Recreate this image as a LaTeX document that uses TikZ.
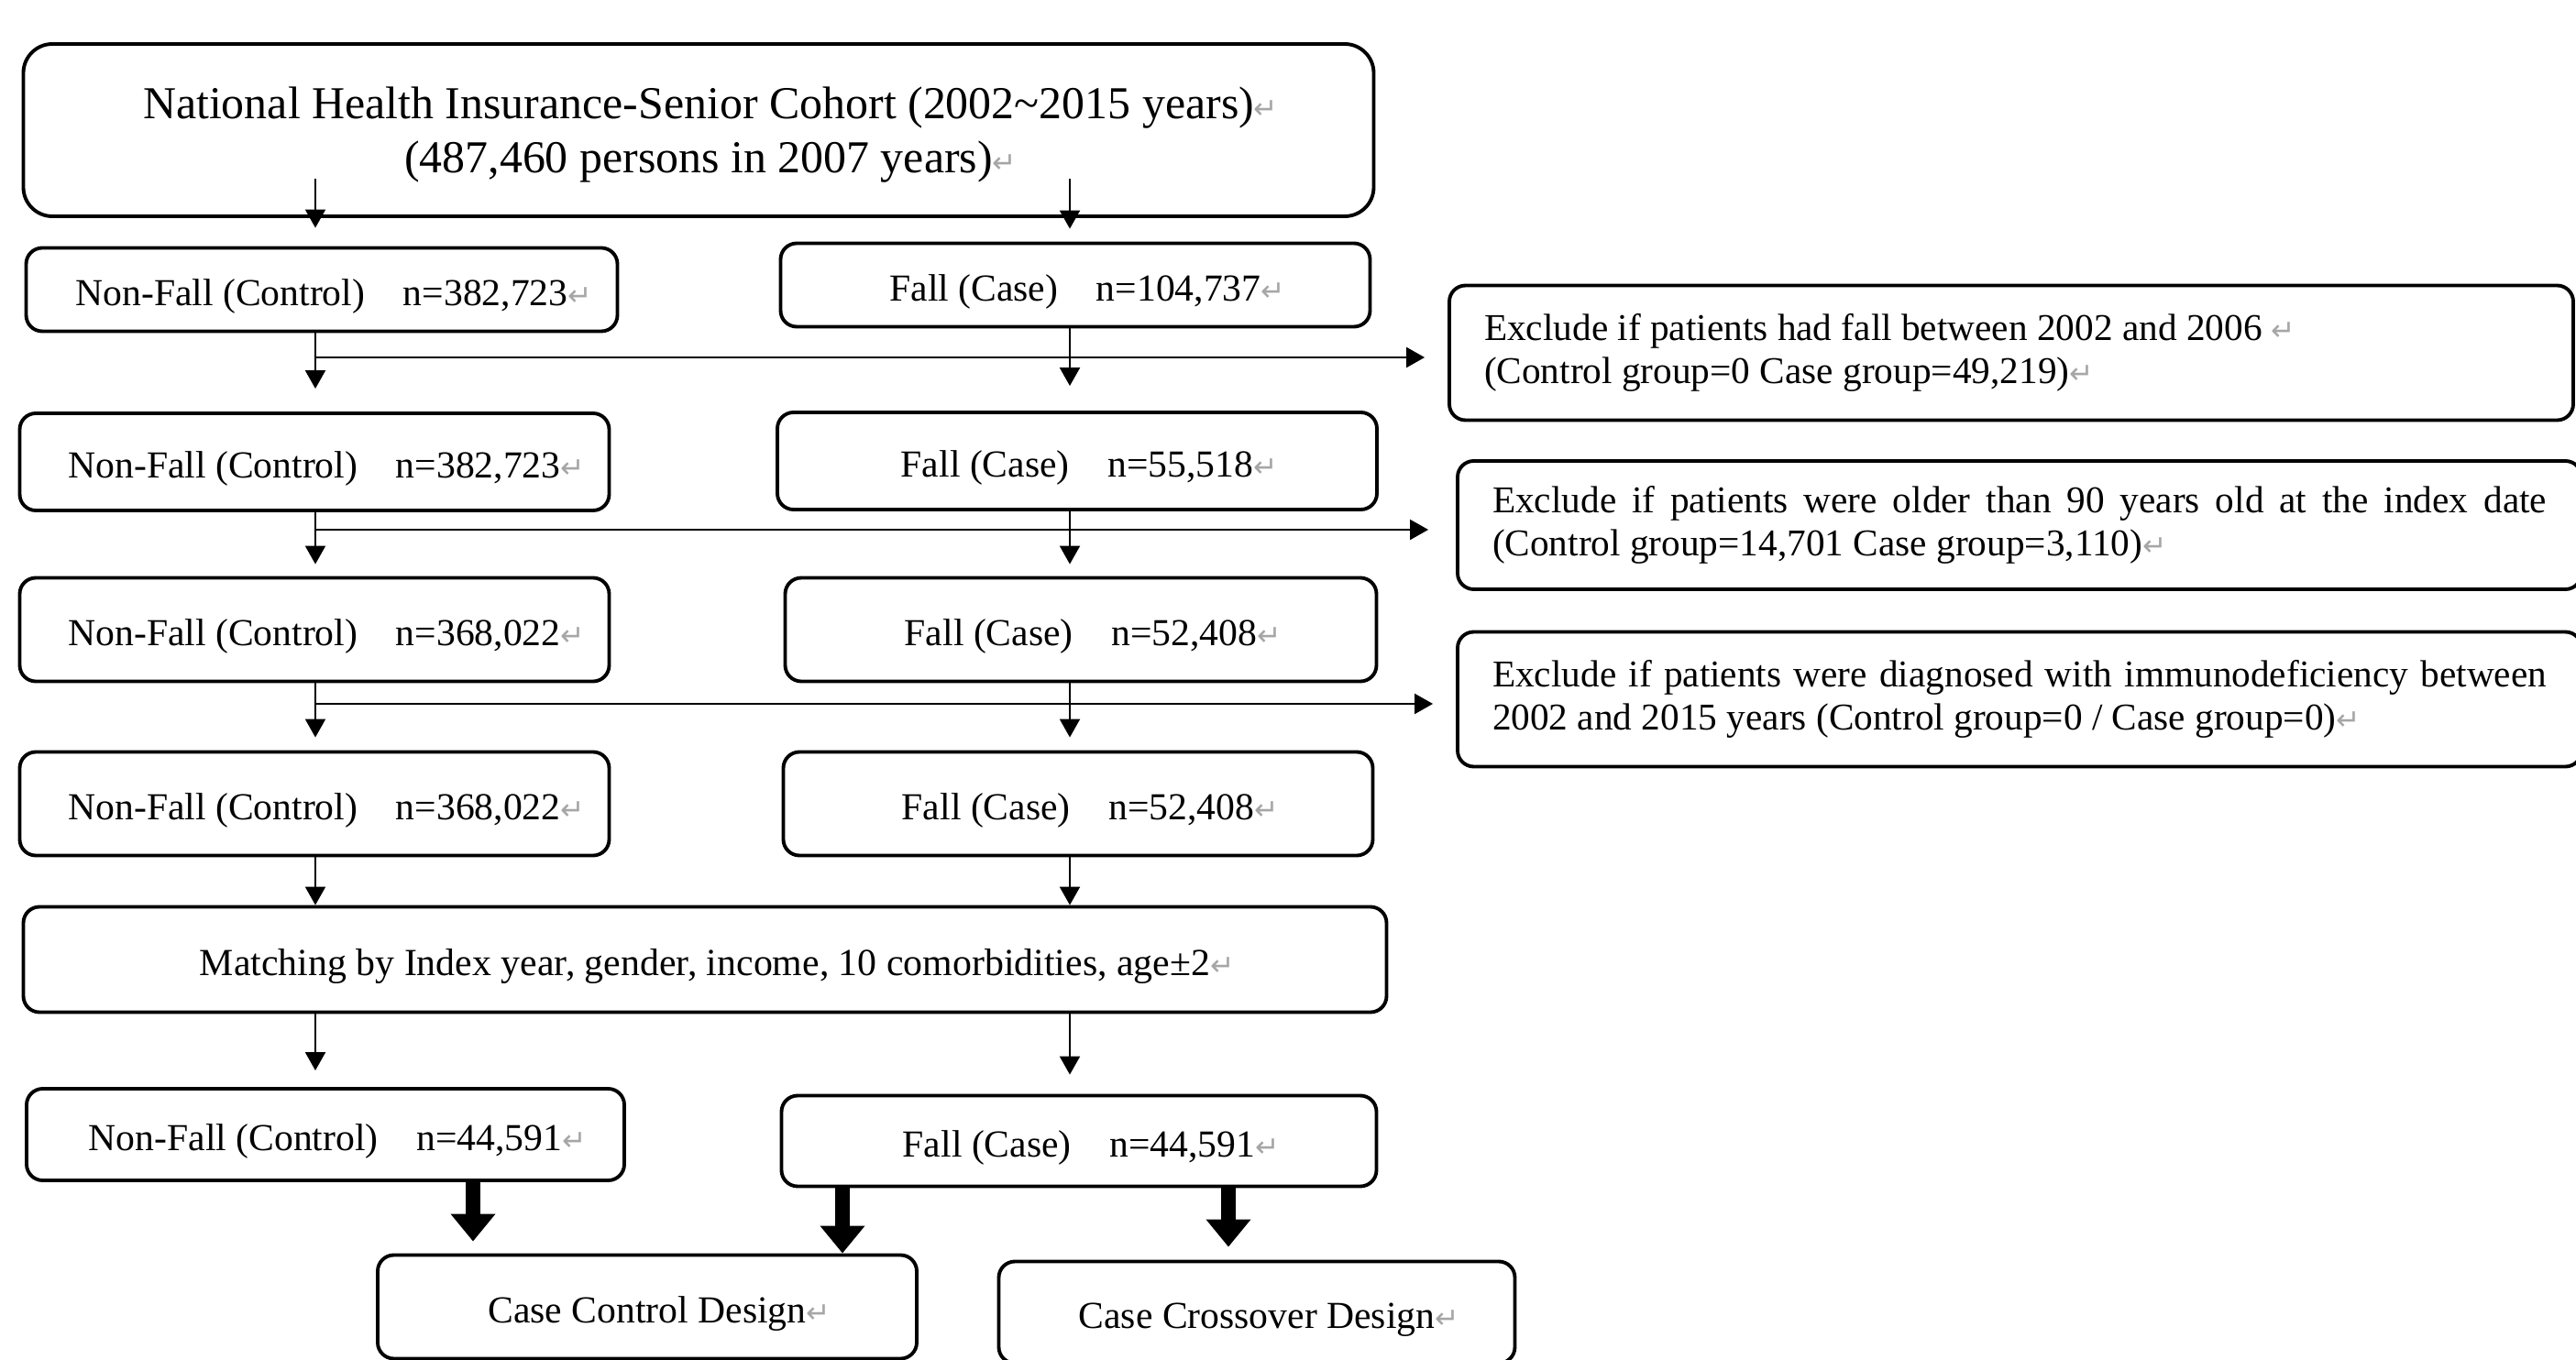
\documentclass[tikz,border=0pt]{standalone}
\usepackage{fontspec}
\setmainfont{Liberation Serif}
\newfontfamily\markfont{DejaVu Sans}
\usepackage{xcolor}
\usetikzlibrary{arrows.meta,positioning,calc}

% Word paragraph mark, as printed in the figure (takes no width)
\newcommand{\parmark}{\rlap{\markfont\color{gray!70}\fontsize{9}{9}\selectfont ↵}}

\begin{document}
\begin{tikzpicture}[every node/.style={font=\fontsize{11.85}{14.2}\selectfont}]

    % Styles for the flow boxes and arrows
    \tikzset{
        framebox/.style={draw=black, line width=1.1pt, rounded corners=5pt, fill=white, inner sep=0pt,
                         execute at begin node={\spaceskip=0pt\xspaceskip=0pt\relax}},
        stagebox/.style={framebox, text height=10pt, text depth=0pt},
        excludebox/.style={framebox, align=left, text width=11.5cm, inner xsep=0.38cm,
                           font=\fontsize{11.75}{13.3}\selectfont},
        arrow/.style={-{Triangle[length=0.2cm,width=0.22cm]}, line width=0.6pt},
        bigarrow/.style={-{Triangle[length=0.3cm,width=0.47cm]}, line width=4.5pt}
    }

    \useasboundingbox (0,0) rectangle (28.1,-14.84);

    % Left and right columns of the vertical arrows
    \coordinate (colL) at (3.44,0);
    \coordinate (colR) at (11.67,0);

    % Source cohort
    \node[framebox, rounded corners=9pt, align=center, text depth=0pt, minimum width=14.73cm, minimum height=1.88cm,
          font=\fontsize{14.2}{16.8}\selectfont] (cohort) at (7.62,-1.42) {
        National Health Insurance-Senior Cohort (2002\textasciitilde 2015 years)\parmark\\
        (487,460 persons in 2007 years)\parmark
    };

    % Control and case groups, step by step
    \node[stagebox, minimum width=6.45cm, minimum height=0.91cm] (nofall1) at (3.51,-3.16) {Non-Fall (Control)\quad n=382,723\parmark};
    \node[stagebox, minimum width=6.43cm, minimum height=0.91cm] (fall1) at (11.73,-3.11) {Fall (Case)\quad n=104,737\parmark};

    \node[stagebox, minimum width=6.43cm, minimum height=1.06cm] (nofall2) at (3.43,-5.04) {Non-Fall (Control)\quad n=382,723\parmark};
    \node[stagebox, minimum width=6.54cm, minimum height=1.06cm] (fall2) at (11.75,-5.03) {Fall (Case)\quad n=55,518\parmark};

    \node[stagebox, minimum width=6.43cm, minimum height=1.13cm] (nofall3) at (3.43,-6.87) {Non-Fall (Control)\quad n=368,022\parmark};
    \node[stagebox, minimum width=6.45cm, minimum height=1.13cm] (fall3) at (11.79,-6.87) {Fall (Case)\quad n=52,408\parmark};

    \node[stagebox, minimum width=6.43cm, minimum height=1.13cm] (nofall4) at (3.43,-8.77) {Non-Fall (Control)\quad n=368,022\parmark};
    \node[stagebox, minimum width=6.43cm, minimum height=1.13cm] (fall4) at (11.76,-8.77) {Fall (Case)\quad n=52,408\parmark};

    % Exclusion criteria
    \node[excludebox, minimum height=1.47cm] (excl1) at (21.94,-3.85) {
        Exclude if patients had fall between 2002 and 2006 \parmark\\
        (Control group=0 Case group=49,219)\parmark
    };
    \node[excludebox, minimum height=1.40cm] (excl2) at (22.03,-5.73) {
        \makebox[11.5cm][s]{Exclude if patients were older than 90 years old at the index date}\\
        (Control group=14,701 Case group=3,110)\parmark
    };
    \node[excludebox, minimum height=1.47cm] (excl3) at (22.03,-7.63) {
        \makebox[11.5cm][s]{Exclude if patients were diagnosed with immunodeficiency between}\\
        2002 and 2015 years (Control group=0 / Case group=0)\parmark
    };

    % Matching and matched groups
    \node[stagebox, minimum width=14.87cm, minimum height=1.15cm, font=\fontsize{11.9}{14.3}\selectfont] (matching) at (7.69,-10.47) {
        Matching by Index year, gender, income, 10 comorbidities, age±2\parmark
    };

    \node[stagebox, minimum width=6.52cm, minimum height=1.00cm] (nofall5) at (3.55,-12.38) {Non-Fall (Control)\quad n=44,591\parmark};
    \node[stagebox, minimum width=6.49cm, minimum height=0.99cm] (fall5) at (11.77,-12.45) {Fall (Case)\quad n=44,591\parmark};

    % Study designs
    \node[stagebox, minimum width=5.88cm, minimum height=1.13cm] (casecontrol) at (7.06,-14.26) {Case Control Design\parmark};
    \node[stagebox, minimum width=5.63cm, minimum height=1.11cm] (crossover) at (13.71,-14.32) {Case Crossover Design\parmark};

    % Vertical flow
    \draw[arrow, shorten >=0.2cm] ($(cohort.south -| colL)+(0,0.43)$) -- (nofall1.north -| colL);
    \draw[arrow, shorten >=0.14cm] ($(cohort.south -| colR)+(0,0.43)$) -- (fall1.north -| colR);
    \draw[arrow, shorten >=0.25cm] (nofall1.south -| colL) -- (nofall2.north -| colL);
    \draw[arrow, shorten >=0.27cm] (fall1.south -| colR) -- (fall2.north -| colR);
    \draw[arrow, shorten >=0.13cm] (nofall2.south -| colL) -- (nofall3.north -| colL);
    \draw[arrow, shorten >=0.13cm] (fall2.south -| colR) -- (fall3.north -| colR);
    \draw[arrow, shorten >=0.14cm] (nofall3.south -| colL) -- (nofall4.north -| colL);
    \draw[arrow, shorten >=0.14cm] (fall3.south -| colR) -- (fall4.north -| colR);
    \draw[arrow] (nofall4.south -| colL) -- (matching.north -| colL);
    \draw[arrow] (fall4.south -| colR) -- (matching.north -| colR);
    \draw[arrow, shorten >=0.18cm] (matching.south -| colL) -- (nofall5.north -| colL);
    \draw[arrow, shorten >=0.21cm] (matching.south -| colR) -- (fall5.north -| colR);

    % Exclusion arrows
    \draw[arrow, shorten >=0.25cm] ($(colL |- excl1.west)+(0,-0.05)$) -- ($(excl1.west)+(0,-0.05)$);
    \draw[arrow, shorten >=0.3cm] ($(colL |- excl2.west)+(0,-0.05)$) -- ($(excl2.west)+(0,-0.05)$);
    \draw[arrow, shorten >=0.25cm] ($(colL |- excl3.west)+(0,-0.05)$) -- ($(excl3.west)+(0,-0.05)$);

    % Thick arrows to the designs
    \draw[bigarrow, shorten >=0.13cm] (nofall5.south -| 5.16,0) -- (casecontrol.north -| 5.16,0);
    \draw[bigarrow] (fall5.south -| 9.19,0) -- (casecontrol.north -| 9.19,0);
    \draw[bigarrow, shorten >=0.14cm] (fall5.south -| 13.40,0) -- (crossover.north -| 13.40,0);

\end{tikzpicture}
\end{document}
